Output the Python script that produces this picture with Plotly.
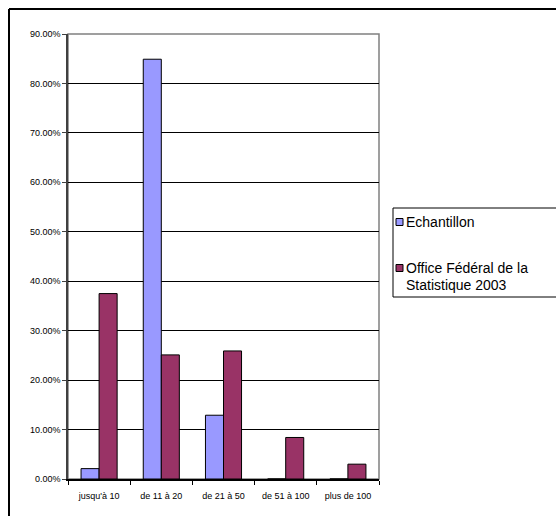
import plotly.graph_objects as go

categories = ["jusqu'à 10", "de 11 à 20", "de 21 à 50", "de 51 à 100", "plus de 100"]
echantillon = [0.021, 0.849, 0.129, 0.0, 0.0]
office_federal = [0.375, 0.251, 0.259, 0.084, 0.030]
series_names = ["Echantillon", "Office Fédéral de la Statistique 2003"]
legend_lines = [["Echantillon"], ["Office Fédéral de la", "Statistique 2003"]]
series_colors = ["#9999FF", "#993366"]

W, H = 556, 516
L, R, T, B = 68, 379, 34, 479  # plot area in page pixels


def px(x):
    return (x - L) / (R - L)


def py(y):
    return (B - y) / (B - T)


FONT = "Liberation Sans, Arial, sans-serif"

fig = go.Figure()
for name, vals, col in zip(series_names, [echantillon, office_federal], series_colors):
    fig.add_trace(go.Bar(
        x=categories, y=vals, name=name,
        marker=dict(color=col, line=dict(color="black", width=1)),
        showlegend=False,
    ))


def seg(x0, y0, x1, y1, color="black", width=1):
    return dict(type="line", xref="paper", yref="paper",
                x0=px(x0), x1=px(x1), y0=py(y0), y1=py(y1),
                line=dict(color=color, width=width))


shapes = [
    # plot area border (gray)
    dict(type="rect", xref="paper", yref="paper", x0=0, x1=1, y0=0, y1=1,
         line=dict(color="#808080", width=1.5), layer="below"),
    # outer chart frame (left and top edges, the rest is outside the picture)
    seg(9, 9, 570, 9, width=2),
    seg(9, 9, 9, 530, width=2),
    # legend box (right edge is outside the picture)
    seg(393, 208, 570, 208),
    seg(393, 297, 570, 297),
    seg(393, 208, 393, 297),
]
annotations = []
legend_rows = [(222, [222]), (268, [268, 285])]
for (sq_y, txt_ys), lines, col in zip(legend_rows, legend_lines, series_colors):
    shapes.append(dict(type="rect", xref="paper", yref="paper",
                       x0=px(396), x1=px(403), y0=py(sq_y + 3.5), y1=py(sq_y - 3.5),
                       fillcolor=col, line=dict(color="black", width=1)))
    for ty, txt in zip(txt_ys, lines):
        annotations.append(dict(xref="paper", yref="paper", x=px(404), y=py(ty),
                                xanchor="left", yanchor="middle", align="left", showarrow=False,
                                text=txt, font=dict(family=FONT, size=14, color="black")))

fig.update_layout(
    template="none",
    width=W, height=H,
    margin=dict(l=L, r=W - R, t=T, b=H - B, pad=0),
    paper_bgcolor="white", plot_bgcolor="white",
    barmode="group", bargap=0.42, bargroupgap=0,
    font=dict(family=FONT, size=9, color="black"),
    shapes=shapes, annotations=annotations,
    showlegend=False,
)
fig.update_yaxes(
    range=[0, 0.9], dtick=0.1, tick0=0, tickformat=".2%",
    showgrid=True, gridcolor="black", gridwidth=1,
    showline=True, linecolor="#404040", linewidth=1.5,
    ticks="outside", ticklen=4, tickcolor="#404040", tickwidth=1,
    zeroline=False, automargin=False,
    tickfont=dict(family=FONT, size=9, color="black"),
)
fig.update_xaxes(
    showgrid=False, showline=True, linecolor="black", linewidth=1.5,
    ticks="outside", ticklen=4, tickson="boundaries", tickcolor="black",
    automargin=False, ticklabelstandoff=7,
    tickfont=dict(family=FONT, size=9, color="black"),
)

fig.write_html(
    "out.html",
    config={"displayModeBar": False},
    post_script="document.body.style.margin='0px';document.body.style.overflow='hidden';",
)
